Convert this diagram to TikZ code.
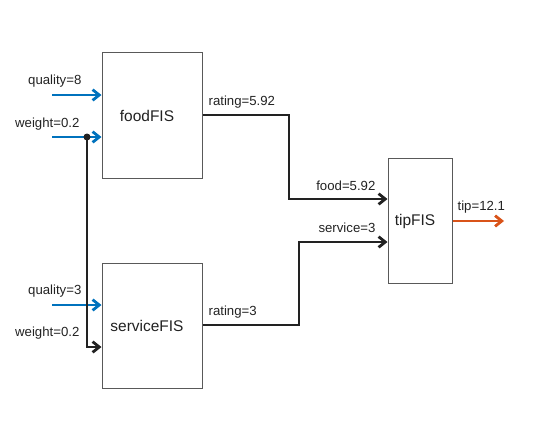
\documentclass[tikz,border=0pt]{standalone}
\usepackage{fontspec}
\setmainfont{Liberation Sans}
\usetikzlibrary{arrows.meta,calc}
\definecolor{mblue}{RGB}{0,114,189}
\definecolor{morange}{RGB}{217,83,25}
\definecolor{dk}{RGB}{34,34,34}
\begin{document}
\begin{tikzpicture}[x=0.75pt,y=-0.75pt,
  fisbox/.style={draw=black!65,line width=0.75pt,fill=white,inner sep=0pt},
  boxlbl/.style={font=\fontsize{11.6}{13}\selectfont,text=dk},
  lbl/.style={font=\fontsize{9.9}{11}\selectfont,text=dk,inner sep=1pt},
  wire/.style={line width=2.1pt,draw=dk},
  inblue/.style={line width=2.1pt,draw=mblue,-{Straight Barb[length=5pt,width=8pt]}},
  inblack/.style={line width=2.1pt,draw=dk,-{Straight Barb[length=5pt,width=8pt]}},
  outor/.style={line width=2.1pt,draw=morange,-{Straight Barb[length=5pt,width=8pt]}}]
\useasboundingbox (0,0) rectangle (541,440);
% boxes
\node[fisbox,minimum width=75pt,minimum height=94.5pt] (food) at (152,115) {};
\node[boxlbl] (foodt) at (147,116) {foodFIS};
\node[fisbox,minimum width=75pt,minimum height=93.75pt] (serv) at (152,325.5) {};
\node[boxlbl] (servt) at (147,326) {serviceFIS};
\node[fisbox,minimum width=48pt,minimum height=93.75pt] (tip) at (420,220.5) {};
\node[boxlbl] (tipt) at (415,221) {tipFIS};
% free-end coordinates
\coordinate (q8) at (52,95);
\coordinate (w1) at (52,137);
\coordinate (dot) at (87,137);
\coordinate (q3) at (52,305);
\coordinate (f1) at (289,115);
\coordinate (f2) at (289,199);
\coordinate (s1) at (299,325);
\coordinate (s2) at (299,242);
\coordinate (tipend) at (504,221);
% inputs
\draw[inblue] (q8) -- (q8 -| food.west);
\draw[inblue] (w1) -- (w1 -| food.west);
\draw[inblue] (q3) -- (q3 -| serv.west);
\draw[inblack] (dot) -- (87,347) -- (serv.west |- 0,347);
\fill[dk] (dot) circle (3.5);
% outputs
\draw[wire,-{Straight Barb[length=5pt,width=8pt]}] (food.east |- f1) -- (f1) -- (f2) -- (tip.west |- f2);
\draw[wire,-{Straight Barb[length=5pt,width=8pt]}] (serv.east |- s1) -- (s1) -- (s2) -- (tip.west |- s2);
\draw[outor] (tip.east |- tipend) -- (tipend);
% labels
\node[lbl,anchor=east] (lq8) at (83,81) {quality=8};
\node[lbl,anchor=east] (lw1) at (81,124) {weight=0.2};
\node[lbl,anchor=east] (lq3) at (83,291) {quality=3};
\node[lbl,anchor=east] (lw2) at (81,333) {weight=0.2};
\node[lbl,anchor=west] (lr1) at (207,102) {rating=5.92};
\node[lbl,anchor=east] (lf) at (377,186) {food=5.92};
\node[lbl,anchor=east] (ls) at (377,228) {service=3};
\node[lbl,anchor=west] (lr2) at (207,312) {rating=3};
\node[lbl,anchor=west] (lt) at (456,207) {tip=12.1};
\end{tikzpicture}
\end{document}
